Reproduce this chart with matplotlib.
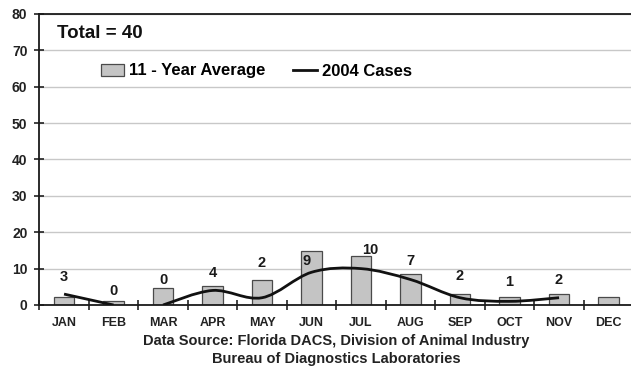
import numpy as np
import matplotlib
matplotlib.use('Agg')
import matplotlib.pyplot as plt
from matplotlib.path import Path
from matplotlib.patches import PathPatch
from matplotlib.lines import Line2D
from matplotlib.patches import Patch

##########DATA##########
months = ['JAN', 'FEB', 'MAR', 'APR', 'MAY', 'JUN',
          'JUL', 'AUG', 'SEP', 'OCT', 'NOV', 'DEC']
avg_11yr = [2.2, 1.1, 4.8, 5.3, 7.0, 14.8, 13.5, 8.6, 3.0, 2.3, 3.0, 2.3]
cases_2004 = [3, 0, 0, 4, 2, 9, 10, 7, 2, 1, 2]
# the 2004 line is drawn in two pieces (Jan-Feb, Mar-Nov)
line_pieces = [(0, 1), (2, 10)]
total_2004 = 40

##########STYLE##########
# label nudges in pixels (dx, dy) from the higher of bar / line
label_dx = [0, 0, 0, 0, 0, -4.5, 9.5, 0, 0, 0, 0]
label_dy = [17, 10, 8, 13, 16.5, 11, 6, 13, 18, 15, 14]

plt.rcParams['font.family'] = ['Liberation Sans', 'DejaVu Sans']
plt.rcParams['font.weight'] = 'bold'

fig = plt.figure(figsize=(6.31, 3.67), dpi=100)
ax = fig.add_axes([39.3 / 631, 62 / 367, 594 / 631, 291 / 367])

x = np.arange(len(months))

##########BARS##########
ax.bar(x, avg_11yr, width=0.42, color='#c4c4c4', edgecolor='#4a4a4a',
       linewidth=0.9, zorder=2)


##########SMOOTH LINE##########
def smooth_path(xs, ys):
    # catmull-rom style bezier, like the spreadsheet "smoothed line"
    pts = np.column_stack([xs, ys]).astype(float)
    n = len(pts)
    verts = [pts[0]]
    codes = [Path.MOVETO]
    for i in range(n - 1):
        p0 = pts[i - 1] if i > 0 else pts[i]
        p1 = pts[i]
        p2 = pts[i + 1]
        p3 = pts[i + 2] if i + 2 < n else pts[i + 1]
        c1 = p1 + (p2 - p0) / 6
        c2 = p2 - (p3 - p1) / 6
        verts += [c1, c2, p2]
        codes += [Path.CURVE4] * 3
    return Path(verts, codes)


for a, b in line_pieces:
    xs = x[a:b + 1]
    ys = cases_2004[a:b + 1]
    ax.add_patch(PathPatch(smooth_path(xs, ys), fill=False, edgecolor='#111111',
                           linewidth=2.0, zorder=3, capstyle='butt'))

##########LABELS##########
for i, v in enumerate(cases_2004):
    anchor = cases_2004[i] if i == 5 else max(avg_11yr[i], cases_2004[i])
    ax.annotate(str(v), (x[i], anchor), xytext=(label_dx[i], label_dy[i]),
                textcoords='offset pixels', ha='center', va='center',
                fontsize=10.5, fontweight='bold', color='#1a1a1a', zorder=4)

##########AXES##########
ax.set_xlim(-0.5, 11.5)
ax.set_ylim(0, 80)
ax.set_yticks(range(0, 81, 10))
ax.yaxis.grid(True, color='#c8c8c8', linewidth=1.0, zorder=0)
ax.set_axisbelow(True)

ax.set_xticks(np.arange(-0.5, 12, 1))
ax.set_xticklabels([])
ax.set_xticks(x, minor=True)
ax.set_xticklabels(months, minor=True)
ax.tick_params(axis='x', which='major', direction='inout', length=7, width=1.2,
               color='#222222')
ax.tick_params(axis='x', which='minor', length=0, pad=9, labelsize=9,
               labelcolor='#222222')
ax.tick_params(axis='y', direction='inout', length=7, width=1.2, pad=5,
               labelsize=10, labelcolor='#222222', color='#222222')

for s in ['left', 'bottom', 'top']:
    ax.spines[s].set_color('#1a1a1a')
    ax.spines[s].set_linewidth(1.3)
ax.spines['right'].set_visible(False)

##########LEGEND##########
ax.text(57 / 631, (367 - 34) / 367, f'Total = {total_2004}', transform=fig.transFigure,
        fontsize=13.5, fontweight='bold', va='center', ha='left', color='#111111')

handles = [Patch(facecolor='#c4c4c4', edgecolor='#4a4a4a', linewidth=0.9),
           Line2D([], [], color='#111111', linewidth=2.0)]
ax.legend(handles, ['11 - Year Average', '2004 Cases'], ncol=2, frameon=False,
          loc='center left', bbox_to_anchor=(101 / 631, (367 - 71) / 367),
          bbox_transform=fig.transFigure, borderpad=0, borderaxespad=0,
          handlelength=1.4, handletextpad=0.3, columnspacing=1.66,
          prop={'size': 12, 'weight': 'bold'})

##########SOURCE##########
fig.text(336 / 631, (367 - 341) / 367,
         'Data Source: Florida DACS, Division of Animal Industry',
         ha='center', va='center', fontsize=10.5, fontweight='bold', color='#222222')
fig.text(336 / 631, (367 - 359) / 367, 'Bureau of Diagnostics Laboratories',
         ha='center', va='center', fontsize=10.5, fontweight='bold', color='#222222')

fig.savefig('out.png', dpi=100)
